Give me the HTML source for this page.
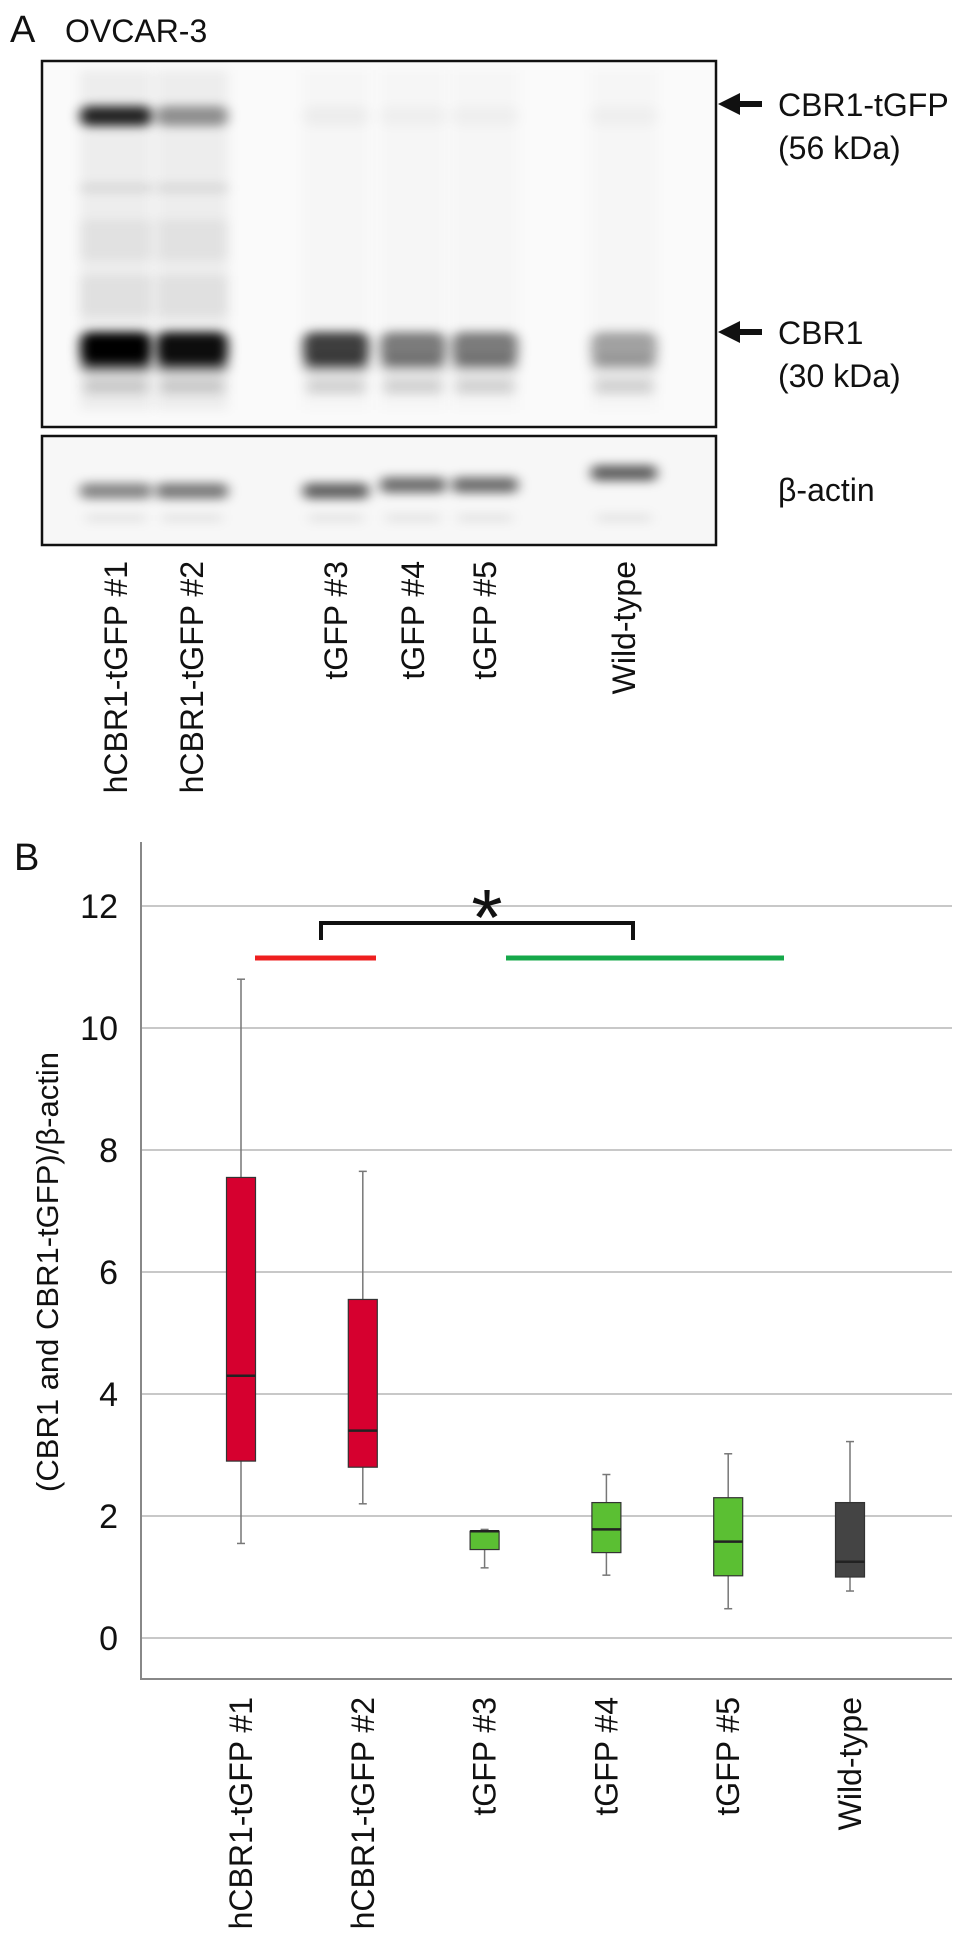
<!DOCTYPE html>
<html><head><meta charset="utf-8">
<style>
html,body{margin:0;padding:0;background:#fff;}
body{width:969px;height:1950px;overflow:hidden;font-family:"Liberation Sans",Arial,sans-serif;}
svg{display:block;}
text{font-family:"Liberation Sans",Arial,sans-serif;fill:#111;}
</style></head>
<body>
<svg id="fig" width="969" height="1950" viewBox="0 0 969 1950">
<defs>
<filter id="blur" x="-50%" y="-200%" width="200%" height="500%"><feGaussianBlur stdDeviation="6 5"/></filter>
</defs>
<text x="10" y="42" font-size="38">A</text>
<text x="65" y="42" font-size="32">OVCAR-3</text>
<g id="blot"></g>
<rect x="42" y="61" width="674" height="366" fill="none" stroke="#111" stroke-width="2.5"/>
<rect x="42" y="436" width="674" height="109" fill="none" stroke="#111" stroke-width="2.5"/>
<g><polygon points="718,104 740,93 740,115" fill="#111"/><rect x="738" y="101" width="24" height="6" fill="#111"/></g>
<text x="778" y="116" font-size="32">CBR1-tGFP</text>
<text x="778" y="159" font-size="32">(56 kDa)</text>
<g><polygon points="718,332 740,321 740,343" fill="#111"/><rect x="738" y="329" width="24" height="6" fill="#111"/></g>
<text x="778" y="344" font-size="32">CBR1</text>
<text x="778" y="387" font-size="32">(30 kDa)</text>
<text x="778" y="501" font-size="32">β-actin</text>
<g id="blotlabels"></g>

<text x="14" y="870" font-size="38">B</text>
<g id="chart"></g>
</svg>
<script>
const lanes = ["hCBR1-tGFP #1","hCBR1-tGFP #2","tGFP #3","tGFP #4","tGFP #5","Wild-type"];
const laneX = [116,192,336,413,485,624];
const fusionBand = [0.85,0.4,0.04,0.03,0.03,0.03];
const cbr1Band = [1.0,0.95,0.75,0.5,0.5,0.35];
const actinBand = [0.45,0.5,0.6,0.55,0.55,0.6];

const categories = ["hCBR1-tGFP #1","hCBR1-tGFP #2","tGFP #3","tGFP #4","tGFP #5","Wild-type"];
const maxVals = [10.8,7.65,1.78,2.68,3.02,3.22];
const q3Vals = [7.55,5.55,1.75,2.22,2.3,2.22];
const medianVals = [4.3,3.4,1.75,1.78,1.58,1.25];
const q1Vals = [2.9,2.8,1.45,1.4,1.02,1.0];
const minVals = [1.55,2.2,1.15,1.03,0.48,0.77];
const boxColors = ["#d6002f","#d6002f","#5bbf33","#5bbf33","#5bbf33","#444444"];
const yTicks = [0,2,4,6,8,10,12];

const NS="http://www.w3.org/2000/svg";
function mk(tag,attrs,parent){const e=document.createElementNS(NS,tag);for(const k in attrs)e.setAttribute(k,attrs[k]);parent.appendChild(e);return e;}

// Blot
const blot=document.getElementById('blot');
mk('rect',{x:42,y:61,width:674,height:366,fill:'#fafafa'},blot);
mk('rect',{x:42,y:436,width:674,height:109,fill:'#f7f7f7'},blot);
lanes.forEach((n,i)=>{
  const x=laneX[i], w=(i<2?72:66);
  const g=mk('g',{filter:'url(#blur)'},blot);
  
  
  mk('rect',{x:x-w/2,y:70,width:w,height:340,fill:'#000','fill-opacity':(i<2?0.05:0.015)},g);
  if(i<2){
    mk('rect',{x:x-w/2,y:184,width:w,height:8,fill:'#000','fill-opacity':0.1},g);
    mk('rect',{x:x-w/2,y:220,width:w,height:40,fill:'#000','fill-opacity':0.05},g);
    mk('rect',{x:x-w/2,y:276,width:w,height:40,fill:'#000','fill-opacity':0.06},g);}
  mk('rect',{x:x-w/2,y:106,width:w,height:20,rx:8,fill:'#000','fill-opacity':fusionBand[i]},g);
  mk('rect',{x:x-w/2,y:332,width:w,height:32,rx:10,fill:'#000','fill-opacity':cbr1Band[i]},g);
  mk('rect',{x:x-w/2,y:358,width:w,height:14,rx:6,fill:'#000','fill-opacity':cbr1Band[i]*0.5},g);
  mk('rect',{x:x-w/2+4,y:378,width:w-8,height:16,fill:'#000','fill-opacity':0.15},g);
  const ay = i===5?473:(i>=3?485:491);
  mk('rect',{x:x-w/2,y:ay-8,width:w,height:16,rx:6,fill:'#000','fill-opacity':actinBand[i]},g);
  mk('rect',{x:x-w/2+6,y:514,width:w-12,height:8,fill:'#000','fill-opacity':0.08},g);
});
const bl=document.getElementById('blotlabels');
lanes.forEach((n,i)=>{
  const t=mk('text',{x:0,y:0,'font-size':32,'text-anchor':'end',transform:'translate('+(laneX[i]+11)+',561) rotate(-90)'},bl);
  
  
  t.textContent=n;
});

// Chart
const chart=document.getElementById('chart');
const x0=141,x1=952,yBase=1638,pxPerUnit=61;
const yScale=v=>yBase-v*pxPerUnit;
const xScale=i=>241+i*121.8;
yTicks.forEach(v=>{
  const l=mk('line',{x1:x0,x2:x1,y1:yScale(v),y2:yScale(v),stroke:'#c8c8c8','stroke-width':2},chart);
  
  
  const t=mk('text',{x:118,y:yScale(v)+12,'font-size':34,'text-anchor':'end'},chart);
  
  
  t.textContent=v;
});
const ax=mk('path',{d:'M'+x0+',842 L'+x0+',1679 L'+x1+',1679',fill:'none',stroke:'#888','stroke-width':2},chart);


const yt=mk('text',{x:0,y:0,'font-size':31,'text-anchor':'middle',transform:'translate(58,1272) rotate(-90)'},chart);


yt.textContent='(CBR1 and CBR1-tGFP)/β-actin';
categories.forEach((c,i)=>{
  const cx=xScale(i),hw=14.5;
  const g=mk('g',{},chart);
  
  
  mk('line',{x1:cx,x2:cx,y1:yScale(maxVals[i]),y2:yScale(minVals[i]),stroke:'#777','stroke-width':1.5},g);
  mk('line',{x1:cx-4,x2:cx+4,y1:yScale(maxVals[i]),y2:yScale(maxVals[i]),stroke:'#777','stroke-width':1.5},g);
  mk('line',{x1:cx-4,x2:cx+4,y1:yScale(minVals[i]),y2:yScale(minVals[i]),stroke:'#777','stroke-width':1.5},g);
  mk('rect',{x:cx-hw,y:yScale(q3Vals[i]),width:hw*2,height:yScale(q1Vals[i])-yScale(q3Vals[i]),fill:boxColors[i],stroke:'#333','stroke-width':1.2},g);
  mk('line',{x1:cx-hw,x2:cx+hw,y1:yScale(medianVals[i]),y2:yScale(medianVals[i]),stroke:'#222','stroke-width':2.5},g);
  const t=mk('text',{x:0,y:0,'font-size':32,'text-anchor':'end',transform:'translate('+(cx+11)+',1697) rotate(-90)'},chart);
  
  
  t.textContent=c;
});
const red=mk('line',{x1:255,x2:376,y1:958,y2:958,stroke:'#ee1f1f','stroke-width':5},chart);


const grn=mk('line',{x1:506,x2:784,y1:958,y2:958,stroke:'#16a84a','stroke-width':5},chart);


const br=mk('path',{d:'M321,940 L321,923 L633,923 L633,940',fill:'none',stroke:'#111','stroke-width':4},chart);


const st=mk('text',{x:487,y:945,'font-size':80,'text-anchor':'middle'},chart);


st.textContent='*';
</script>
</body></html>
